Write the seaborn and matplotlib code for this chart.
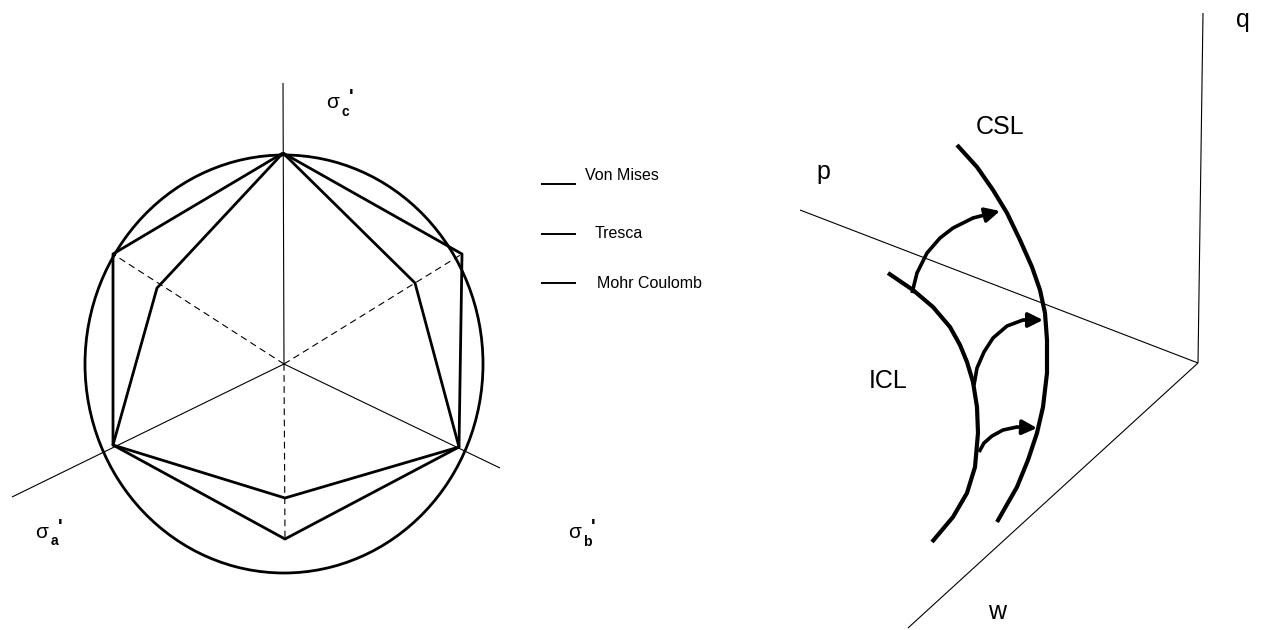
import matplotlib
matplotlib.use("Agg")
import matplotlib.pyplot as plt
import seaborn as sns
import pandas as pd
from matplotlib.patches import Ellipse

# ---- left: deviatoric plane (drawing units = pixels) ----
centre = (284, 364)
von_mises_size = (398, 418)
tresca_x = [283, 113, 113, 285, 459, 462, 283]
tresca_y = [153, 254, 445, 498, 447, 254, 153]
mohr_x = [283, 157, 113, 285, 459, 415, 283]
mohr_y = [153, 288, 445, 539, 447, 283, 153]

# principal stress axes (from centre outwards)
solid_axes = {"c": (283, 83), "a": (12, 497), "b": (500, 468)}
dashed_axes = {"up_left": (113, 254), "up_right": (462, 254), "down": (285, 539)}

sigma_labels = ["c", "a", "b"]
sigma_pos = [(333, 103), (42, 532), (575, 533)]

legend_names = ["Von Mises", "Tresca", "Mohr Coulomb"]
legend_line_y = [184, 234, 283]
legend_text_x = [585, 595, 597]
legend_text_y = [176, 234, 283]

# ---- right: state space ----
origin = (1198, 363)
axis_ends = {"q": (1203, 13), "p": (800, 210), "w": (908, 628)}
axis_label_pos = {"q": (1243, 20), "p": (823, 172), "w": (997, 612)}

csl_x = [957, 977, 993, 1007, 1020, 1032, 1040, 1045, 1047, 1047, 1043, 1037, 1028, 1017, 997]
csl_y = [145, 167, 190, 213, 240, 267, 290, 313, 340, 373, 407, 433, 460, 487, 522]
icl_x = [888, 913, 933, 950, 960, 967, 973, 977, 978, 975, 967, 953, 932]
icl_y = [273, 290, 307, 327, 345, 362, 382, 407, 433, 467, 493, 517, 542]

path1_x = [912, 917, 927, 940, 953, 973, 1000]
path1_y = [293, 273, 253, 238, 228, 218, 211]
path2_x = [974, 977, 984, 993, 1007, 1023, 1043]
path2_y = [385, 368, 352, 338, 326, 320, 320]
path3_x = [979, 984, 992, 1003, 1017, 1037]
path3_y = [452, 443, 436, 430, 427, 428]

curve_labels = {"CSL": (1000, 127), "ICL": (888, 381)}

sns.set_theme(style="white")
plt.rcParams["font.family"] = ["Liberation Sans", "DejaVu Sans"]
plt.rcParams["text.color"] = "black"

fig = plt.figure(figsize=(12.65, 6.30), dpi=100)
ax = fig.add_axes([0, 0, 1, 1])


def draw(xs, ys, lw, ls="-"):
    df = pd.DataFrame({"x": xs, "y": ys})
    sns.lineplot(data=df, x="x", y="y", sort=False, estimator=None,
                 color="black", lw=lw, ls=ls, ax=ax,
                 solid_joinstyle="round", solid_capstyle="butt")


# von mises circle
ax.add_patch(Ellipse(centre, von_mises_size[0], von_mises_size[1],
                     fill=False, ec="black", lw=2.0))
draw(tresca_x, tresca_y, 2.0)
draw(mohr_x, mohr_y, 2.0)

for end in solid_axes.values():
    draw([centre[0], end[0]], [centre[1], end[1]], 0.8)
for end in dashed_axes.values():
    draw([centre[0], end[0]], [centre[1], end[1]], 0.8, ls=(0, (6, 4)))

for sub, (sx, sy) in zip(sigma_labels, sigma_pos):
    ax.text(sx, sy, "σ", fontsize=15, ha="center", va="center")
    ax.text(sx + 12, sy + 9, sub, fontsize=10, ha="center", va="center",
            fontweight="bold")
    ax.text(sx + 18, sy - 5, "'", fontsize=14, ha="center", va="center",
            fontweight="bold")

for name, ly, tx, ty in zip(legend_names, legend_line_y, legend_text_x, legend_text_y):
    draw([541, 576], [ly, ly], 1.4)
    ax.text(tx, ty, name, fontsize=11.5, ha="left", va="center")

# state space axes
for key, end in axis_ends.items():
    draw([origin[0], end[0]], [origin[1], end[1]], 0.8)
    lx, ly = axis_label_pos[key]
    ax.text(lx, ly, key, fontsize=18, ha="center", va="center")

draw(csl_x, csl_y, 3.0)
draw(icl_x, icl_y, 3.0)

for px, py in [(path1_x, path1_y), (path2_x, path2_y), (path3_x, path3_y)]:
    draw(px[:-1], py[:-1], 2.6)
    ax.annotate("", xy=(px[-1], py[-1]), xytext=(px[-2], py[-2]),
                arrowprops=dict(arrowstyle="-|>", mutation_scale=22,
                                color="black", lw=2.6, shrinkA=0, shrinkB=0))

for name, (lx, ly) in curve_labels.items():
    ax.text(lx, ly, name, fontsize=18, ha="center", va="center")

ax.set_xlim(0, 1265)
ax.set_ylim(630, 0)
ax.axis("off")
fig.savefig("out.png", dpi=100, facecolor="white")
